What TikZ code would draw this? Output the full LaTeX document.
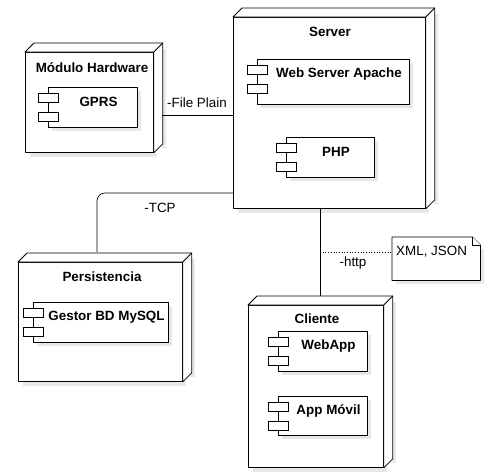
\documentclass[tikz,border=0pt]{standalone}
\usepackage{fontspec}
\setmainfont{Liberation Sans}
\tikzset{
  face/.style={draw=black, line width=0.8pt, fill=white, line join=round},
  shadowc/.style={fill=black!9, draw=none},
  compbox/.style={draw=black, line width=0.7pt, fill=white, inner sep=0pt, anchor=north west},
  iconrect/.style={draw=black, line width=0.6pt, fill=white},
  boldlbl/.style={font=\fontsize{13.4}{15}\selectfont\bfseries, inner sep=0pt},
  plainlbl/.style={font=\fontsize{13.4}{15}\selectfont, inner sep=0pt},
  wire/.style={draw=black, line width=0.7pt},
}
% device node: name, x1, y1, x2, y2 (pixel coords, y down)
\newcommand\devbox[5]{%
  \fill[shadowc] ({#2+5},{#5}) rectangle ({#4+4},{#5+5});
  \fill[shadowc] ({#4+9},{#3-3}) rectangle ({#4+13},{#5-4});
  \node[face, inner sep=0pt, anchor=north west, minimum width={#4-#2}, minimum height={#5-#3}] (#1) at (#2,#3) {};
  \draw[face] (#1.north west) -- ([shift={(9,-9)}]#1.north west) -- ([shift={(9,-9)}]#1.north east)
     -- ([shift={(9,-9)}]#1.south east) -- (#1.south east) -- (#1.north east) -- cycle;
  \draw[face] (#1.north east) -- ([shift={(9,-9)}]#1.north east);
}
% component: name, x, y, w, h, text
\newcommand\compnode[6]{%
  \fill[shadowc] ({#2+4},{#3+#5}) rectangle ({#2+#4+4},{#3+#5+4});
  \fill[shadowc] ({#2+#4},{#3+4}) rectangle ({#2+#4+4},{#3+#5+4});
  \node[compbox, minimum width=#4, minimum height=#5] (#1) at (#2,#3) {};
  \draw[iconrect] ({#2-10},{#3+6}) rectangle ({#2+10},{#3+15});
  \draw[iconrect] ({#2-10},{#3+25}) rectangle ({#2+10},{#3+34});
  \node[boldlbl] (#1-t) at ({#2+#4/2+6},{#3+15}) {#6};
}
\begin{document}
\begin{tikzpicture}[x=1pt, y=-1pt]
\useasboundingbox (0,0) rectangle (498,475);

% devices
\devbox{hw}{25}{52}{153}{152}
\devbox{srv}{233}{17}{425}{208}
\devbox{per}{18}{262}{182}{381}
\devbox{cli}{248}{305}{383}{467}

% device titles
\node[boldlbl] (hwt) at (92,68) {Módulo Hardware};
\node[boldlbl] (srvt) at (330,32) {Server};
\node[boldlbl] (pert) at (102,277) {Persistencia};
\node[boldlbl] (clit) at (317,319) {Cliente};

% components
\compnode{gprs}{48}{87}{89}{40}{GPRS}
\compnode{apache}{257}{59}{152}{45}{Web Server Apache}
\compnode{php}{286}{137}{88}{40}{PHP}
\compnode{mysql}{33}{302}{135}{40}{Gestor BD MySQL}
\compnode{webapp}{278}{331}{89}{40}{WebApp}
\compnode{appm}{278}{396}{89}{39}{App Móvil}

% note
\fill[shadowc] (396,280) rectangle (484,284);
\fill[shadowc] (480,249) rectangle (484,284);
\node[inner sep=0pt, minimum width=88, minimum height=43, anchor=north west] (note) at (392,237) {};
\draw[face] (note.north west) -- ([xshift=-8pt]note.north east) -- ([yshift=-8pt]note.north east)
   -- (note.south east) -- (note.south west) -- cycle;
\draw[face] ([xshift=-8pt]note.north east) -- ([xshift=-8pt,yshift=-8pt]note.north east) -- ([yshift=-8pt]note.north east);
\node[plainlbl, anchor=west] (notet) at (396,252) {XML, JSON};

% connectors
\coordinate (fp) at (162,115);
\draw[wire] (fp) -- (srv.west |- fp);
\node[plainlbl] (fpl) at (197,103) {-File Plain};

\coordinate (tcpa) at (233,193);
\coordinate (tcpb) at (97,252);
\draw[wire, rounded corners=8pt] (tcpa) -- (tcpb |- tcpa) -- (tcpb);
\node[plainlbl] (tcpl) at (160,208) {-TCP};

\coordinate (httpa) at (320,208);
\coordinate (httpb) at (320,296);
\draw[wire] (httpa) -- (httpb);
\node[plainlbl] (httpl) at (353,263) {-http};

\coordinate (dotc) at (320,252);
\draw[wire, dotted, line width=0.9pt] (dotc) -- (note.west |- dotc);
\end{tikzpicture}
\end{document}
